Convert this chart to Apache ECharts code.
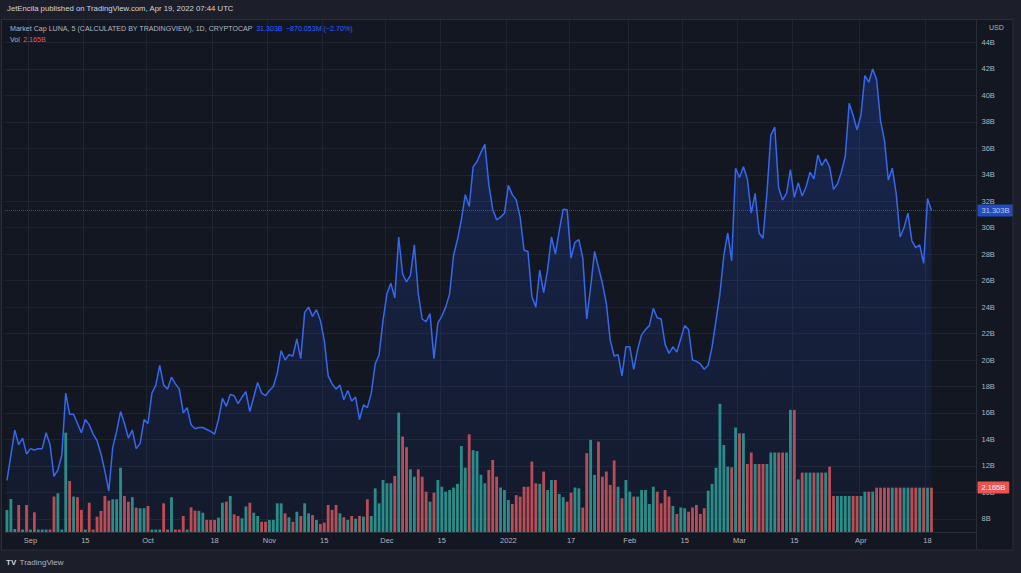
<!DOCTYPE html>
<html><head><meta charset="utf-8">
<script src="https://cdn.jsdelivr.net/npm/echarts@6/dist/echarts.min.js"></script>
<style>html,body{margin:0;padding:0;background:#131722;}#c{width:1021px;height:573px;}</style>
</head><body><div id="c"></div>
<script>
// ---- data (daily, starting 2021-08-26) ----
const startDate = [2021, 7, 26];   // Y, M(0-based), D
const axisDays = 248;               // axis runs to 2022-04-30 (right margin)
const marketCap = [ // billions USD
 10.9,12.8,14.7,13.6,14.1,12.9,13.3,13.2,13.3,13.3,
 14.5,13.6,11.2,11.7,12.8,17.5,15.9,15.9,15.2,14.5,
 15.5,15.1,14.4,13.9,12.9,11.6,10.1,13.4,14.6,16.1,
 15.2,14.1,14.7,13.3,13.7,15.5,15.2,17.5,18.1,19.6,
 18.1,17.8,18.7,18.2,17.8,16.0,16.4,15.1,14.8,14.9,
 14.9,14.75,14.6,14.4,15.5,17.1,16.5,17.4,17.3,16.7,
 17.2,17.6,16.1,17.2,18.3,17.5,17.3,17.7,18.0,19.0,
 20.7,20.0,20.4,20.3,21.6,20.1,23.6,24.0,23.3,23.8,
 23.0,21.5,18.8,18.2,17.8,18.1,17.0,17.7,16.9,17.2,
 15.5,16.6,16.4,17.5,19.7,20.4,23.0,25.0,25.8,24.7,
 29.3,26.5,25.9,26.4,28.7,25.0,23.1,22.9,23.5,20.1,
 22.8,23.3,24.0,25.0,27.9,29.1,30.6,32.5,31.6,34.6,
 35.0,35.7,36.3,33.3,31.4,30.6,30.8,31.1,33.2,32.5,
 32.1,30.8,28.3,28.2,24.8,24.0,26.8,25.1,26.8,29.3,
 28.0,29.8,31.4,31.35,27.7,28.9,29.1,27.7,23.1,25.5,
 28.2,27.0,25.8,24.3,21.5,20.3,20.4,18.8,21.0,21.0,
 19.3,20.8,21.9,22.3,22.6,23.9,23.2,23.1,21.2,20.5,
 21.0,20.6,21.6,22.6,22.3,20.0,19.9,19.7,19.3,19.6,
 21.0,23.0,25.0,27.9,29.6,27.5,34.5,33.8,34.6,33.7,
 31.1,32.6,29.6,29.2,32.6,37.0,37.6,33.0,32.1,32.6,
 34.4,32.3,33.4,32.4,33.1,34.2,33.7,35.5,34.7,35.2,
 34.6,32.9,33.3,34.2,35.4,39.4,38.5,37.4,38.5,41.5,
 41.0,42.0,41.2,38.1,36.6,33.6,34.5,32.6,29.3,30.0,
 31.1,29.0,28.5,28.7,27.3,32.2,31.303
];
const volume = [ // billions USD
 1.08,1.61,0.15,1.32,0.12,1.32,0.12,0.96,0.12,0.12,
 0.12,0.12,1.73,1.89,0.12,4.85,2.49,1.73,1.70,1.08,
 0.12,1.43,0.12,0.75,1.03,1.76,1.53,1.60,1.60,3.14,
 1.76,1.48,1.70,1.19,1.16,1.16,1.27,0.12,0.12,0.12,
 1.40,0.12,1.70,0.12,0.12,0.78,0.12,1.20,1.04,1.03,
 0.94,0.59,0.59,0.59,0.70,1.43,1.48,1.76,0.86,0.78,
 0.67,1.25,1.43,0.94,0.78,0.50,0.50,0.59,0.59,1.40,
 1.40,0.91,0.72,0.50,0.99,0.78,1.40,0.91,0.83,0.59,
 0.39,0.46,1.32,1.08,1.32,0.91,0.72,0.59,0.78,0.65,
 0.78,0.75,1.60,0.78,2.13,1.40,2.54,2.38,2.38,2.74,
 5.83,4.66,4.14,3.06,2.70,3.06,2.70,1.97,1.48,1.92,
 2.54,2.21,1.97,2.05,2.17,2.35,4.20,3.14,4.77,4.00,
 3.95,2.79,2.38,3.03,3.52,2.70,2.17,2.05,1.56,1.37,
 1.80,1.73,2.21,2.21,3.44,2.38,2.35,2.95,2.05,2.54,
 2.54,1.86,1.70,1.48,1.92,2.17,2.13,1.19,3.85,4.50,
 2.79,4.41,2.70,2.95,2.30,3.49,2.21,1.65,2.54,1.97,
 1.73,1.73,2.05,2.05,1.37,2.21,1.97,1.40,2.05,1.73,
 1.27,0.88,1.20,1.16,0.99,1.20,1.32,0.88,1.16,2.02,
 2.35,3.14,6.26,4.25,3.19,3.16,5.10,4.82,4.82,3.32,
 3.88,3.32,3.32,3.32,3.32,3.88,3.88,3.88,3.88,3.88,
 5.96,5.96,2.57,2.90,2.90,2.90,2.90,2.90,2.90,2.90,
 3.19,1.76,1.76,1.76,1.76,1.76,1.76,1.76,1.76,1.97,
 1.97,1.97,2.165,2.165,2.165,2.165,2.165,2.165,2.165,2.165,
 2.165,2.165,2.165,2.165,2.165,2.165,2.165
];
const xTickDates  = ['2021-09-01','2021-09-15','2021-10-01','2021-10-18','2021-11-01','2021-11-15','2021-12-01','2021-12-15','2022-01-01','2022-01-17','2022-02-01','2022-02-15','2022-03-01','2022-03-15','2022-04-01','2022-04-18'];
const xTickLabels = ['Sep','15','Oct','18','Nov','15','Dec','15','2022','17','Feb','15','Mar','15','Apr','18'];
const priceTicks  = [8,10,12,14,16,18,20,22,24,26,28,30,32,34,36,38,40,42,44];
const headerText  = 'JetEncila published on TradingView.com, Apr 19, 2022 07:44 UTC';
const legendTitle = 'Market Cap LUNA, 5 (CALCULATED BY TRADINGVIEW), 1D, CRYPTOCAP';
const legendValue = '31.303B';
const legendChange = '\u2212870.053M (\u22122.70%)';
const volTitle = 'Vol';

// ---- build ----
const pad = n => (n < 10 ? '0' : '') + n;
const t0 = Date.UTC(startDate[0], startDate[1], startDate[2]);
const dates = [];
for (let i = 0; i < axisDays; i++) {
  const d = new Date(t0 + i * 86400000);
  dates.push(d.getUTCFullYear() + '-' + pad(d.getUTCMonth() + 1) + '-' + pad(d.getUTCDate()));
}
const labelMap = new Map(xTickDates.map((d, i) => [d, xTickLabels[i]]));
const UP = '#2a8f82', DOWN = '#c24b4b';
const volData = volume.map((v, i) => ({
  value: v,
  itemStyle: { color: (i === 0 || marketCap[i] >= marketCap[i - 1]) ? UP : DOWN }
}));
const lastPrice = marketCap[marketCap.length - 1];
const lastVol = volume[volume.length - 1];
const FONT = '"Liberation Sans", Arial, sans-serif';
const AX = '#b2b5be';
const GRIDC = '#1f2330';

const chart = echarts.init(document.getElementById('c'), null, { renderer: 'svg', width: 1021, height: 573 });
chart.setOption({
  animation: false,
  backgroundColor: '#131722',
  grid: { left: 5, right: 44.5, top: 20, bottom: 41 },
  xAxis: {
    type: 'category', data: dates, boundaryGap: true,
    axisLine: { show: true, lineStyle: { color: '#2a2e39' } },
    axisTick: { show: false },
    axisLabel: {
      interval: (i, v) => labelMap.has(v),
      formatter: v => labelMap.get(v) || '',
      color: AX, fontSize: 7.5, fontFamily: FONT, margin: 4
    },
    splitLine: { show: true, interval: (i, v) => labelMap.has(v), lineStyle: { color: GRIDC, width: 1 } }
  },
  yAxis: [
    {
      type: 'value', position: 'right', min: 7, max: 45.7,
      axisLine: { show: true, lineStyle: { color: '#2a2e39' } },
      axisTick: { show: false, customValues: priceTicks },
      axisLabel: { customValues: priceTicks, formatter: v => v + 'B', color: AX, fontSize: 7.5, fontFamily: FONT, margin: 5 },
      splitLine: { show: true, lineStyle: { color: GRIDC, width: 1 } }
    },
    { type: 'value', min: 0, max: 25, show: false, splitLine: { show: false } }
  ],
  series: [
    {
      type: 'bar', data: volData, xAxisIndex: 0, yAxisIndex: 1,
      barCategoryGap: '28%', z: 2, silent: true,
      markLine: {
        silent: true, symbol: 'none', animation: false,
        data: [{ yAxis: lastVol }],
        lineStyle: { color: 'rgba(0,0,0,0)', width: 0 },
        label: {
          position: 'end', distance: 1, formatter: lastVol.toFixed(3) + 'B',
          backgroundColor: '#ef5350', color: '#ffffff', padding: [2, 4, 2, 4],
          fontSize: 7.5, fontFamily: FONT, borderRadius: 1
        }
      }
    },
    {
      type: 'line', data: marketCap, xAxisIndex: 0, yAxisIndex: 0,
      symbol: 'none', showSymbol: false, z: 3, silent: true,
      lineStyle: { color: '#3568ee', width: 1.5 },
      areaStyle: {
        color: new echarts.graphic.LinearGradient(0, 0, 0, 1, [
          { offset: 0, color: 'rgba(41,98,255,0.30)' },
          { offset: 1, color: 'rgba(41,98,255,0.06)' }
        ])
      },
      markLine: {
        silent: true, symbol: 'none', animation: false,
        data: [{ yAxis: lastPrice }],
        lineStyle: { color: '#2962ff', type: 'dotted', width: 1, opacity: 0.7 },
        label: {
          position: 'end', distance: 1, formatter: lastPrice.toFixed(3) + 'B',
          backgroundColor: '#2962ff', color: '#ffffff', padding: [2, 4, 2, 4],
          fontSize: 7.5, fontFamily: FONT, borderRadius: 1
        }
      }
    }
  ],
  graphic: [
    { type: 'rect', z: 50, shape: { x: 0, y: 0, width: 1021, height: 19 }, style: { fill: '#1c1f2a' } },
    { type: 'rect', z: 50, shape: { x: 0, y: 550, width: 1021, height: 23 }, style: { fill: '#1c1f2a' } },
    { type: 'rect', z: 50, shape: { x: 1013, y: 0, width: 8, height: 573 }, style: { fill: '#1c1f2a' } },
    { type: 'rect', z: 50, shape: { x: 0, y: 0, width: 2, height: 573 }, style: { fill: '#1c1f2a' } },
    { type: 'rect', z: 51, shape: { x: 1.5, y: 19.5, width: 1011.5, height: 530.5 }, style: { fill: 'none', stroke: '#2a2e39', lineWidth: 1 } },
    { type: 'line', z: 51, shape: { x1: 976.5, y1: 532, x2: 976.5, y2: 550 }, style: { stroke: '#2a2e39', lineWidth: 1 } },
    { type: 'text', z: 60, left: 7, top: 4, style: { text: headerText, fill: '#d1d4dc', font: '7.75px ' + FONT } },
    { type: 'text', z: 60, left: 10, top: 23, style: {
        text: '{a|' + legendTitle + '} {b|' + legendValue + '} {b|' + legendChange + '}',
        rich: { a: { fill: '#b2b5be', font: '7.1px ' + FONT }, b: { fill: '#2962ff', font: '7.1px ' + FONT } } } },
    { type: 'text', z: 60, left: 10, top: 34, style: {
        text: '{a|' + volTitle + '} {b|' + lastVol.toFixed(3) + 'B}',
        rich: { a: { fill: '#b2b5be', font: '7.1px ' + FONT }, b: { fill: '#ef5350', font: '7.1px ' + FONT } } } },
    { type: 'text', z: 60, left: 989, top: 24, style: { text: 'USD', fill: '#b2b5be', font: '7px ' + FONT } },
    { type: 'text', z: 60, left: 6, top: 556, style: {
        text: '{l|TV} {t|TradingView}',
        rich: { l: { fill: '#d1d4dc', font: 'bold 8px ' + FONT }, t: { fill: '#b2b5be', font: '8px ' + FONT } } } }
  ]
});
</script>
</body></html>
